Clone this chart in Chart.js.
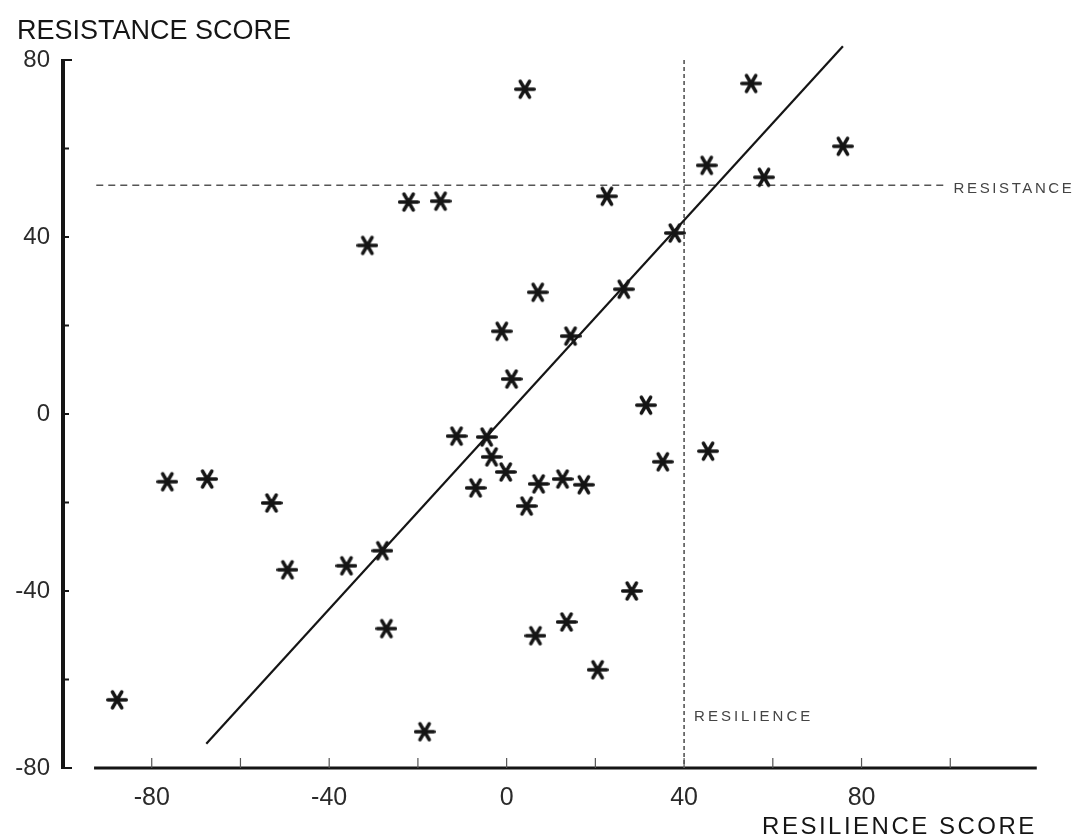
<!DOCTYPE html>
<html lang="en">
<head>
    <meta charset="UTF-8">
    <title>Resistance score vs resilience score</title>
    <script src="https://cdn.jsdelivr.net/npm/chart.js"></script>
    <style>
        html, body { margin: 0; padding: 0; background: #fff; }
        #wrap { width: 1077px; height: 836px; }
    </style>
</head>
<body>

<div id="wrap"><canvas id="scoreChart"></canvas></div>

<script>
// Scores: x = resilience score, y = resistance score
const resilience = [4.1, -22.1, -14.9, 22.6, 37.9, 45.1, -31.4, 55.1, 75.8, 58.0,
                    7.0, 26.4, -1.1, 14.4, 1.1, 31.4, -11.3, -4.5, -3.4, -0.2,
                    35.2, 45.4, -7.0, 7.2, 12.6, 17.4, 4.5, -28.0, -27.1, 6.5,
                    13.5, 28.2, 20.5, -18.5, -76.5, -67.5, -53.0, -49.4, -36.1, -87.8];
const resistance = [73.4, 47.9, 48.1, 49.2, 40.9, 56.2, 38.1, 74.7, 60.5, 53.5,
                    27.5, 28.2, 18.7, 17.6, 7.9, 2.0, -5.0, -5.2, -9.7, -13.1,
                    -10.8, -8.4, -16.7, -15.8, -14.7, -16.0, -20.8, -30.9, -48.5, -50.1,
                    -47.0, -40.0, -57.8, -71.8, -15.3, -14.7, -20.1, -35.2, -34.3, -64.6];

// fitted line end points
const fitX = [-67.7, 75.8];
const fitY = [-74.5, 83.1];

// cut-off lines
const resistanceCut = 51.7;
const resistanceSpan = [-92.5, 98.5];
const resilienceCut = 40;
const resilienceSpan = [80, -80];

// axes
const xTicks = [-80, -40, 0, 40, 80];
const yTicks = [-80, -40, 0, 40, 80];
const minorStep = 20;
const xAxisSpan = [-93, 119.5];

const ink = '#151515';
const font = '"Liberation Sans", Arial, sans-serif';

// typewriter style asterisk used as point marker (horizontal bar + two diagonals)
function asterisk(size, lw) {
    const c = document.createElement('canvas');
    c.width = c.height = size;
    const g = c.getContext('2d');
    const r = size / 2 - lw / 2;
    g.strokeStyle = ink;
    g.lineWidth = lw;
    g.lineCap = 'round';
    g.translate(size / 2, size / 2);
    for (let i = 0; i < 3; i++) {
        const a = i * Math.PI / 3;
        g.beginPath();
        g.moveTo(-r * Math.cos(a), -r * Math.sin(a));
        g.lineTo(r * Math.cos(a), r * Math.sin(a));
        g.stroke();
    }
    return c;
}

// axis lines, inward ticks and the text labels
const paperAxes = {
    id: 'paperAxes',
    beforeDatasetsDraw(chart) {
        const { ctx, chartArea: a, scales: { x, y } } = chart;
        ctx.save();
        ctx.strokeStyle = ink;

        // vertical axis
        ctx.lineWidth = 4;
        ctx.beginPath();
        ctx.moveTo(a.left, y.getPixelForValue(80) - 1);
        ctx.lineTo(a.left, y.getPixelForValue(-80) + 1);
        ctx.stroke();
        ctx.lineWidth = 2;
        for (let v = -80; v <= 80; v += minorStep) {
            const py = y.getPixelForValue(v);
            ctx.beginPath();
            ctx.moveTo(a.left, py);
            ctx.lineTo(a.left + (Math.abs(v) === 80 ? 9 : 6), py);
            ctx.stroke();
        }

        // horizontal axis
        const by = y.getPixelForValue(-80);
        ctx.lineWidth = 3;
        ctx.beginPath();
        ctx.moveTo(x.getPixelForValue(xAxisSpan[0]), by);
        ctx.lineTo(x.getPixelForValue(xAxisSpan[1]), by);
        ctx.stroke();
        ctx.lineWidth = 1.2;
        ctx.strokeStyle = '#555';
        for (let v = -80; v <= 100; v += minorStep) {
            const px = x.getPixelForValue(v);
            ctx.beginPath();
            ctx.moveTo(px, by);
            ctx.lineTo(px, by - 10);
            ctx.stroke();
        }
        ctx.restore();
    },
    afterDraw(chart) {
        const { ctx, scales: { x, y } } = chart;
        ctx.save();
        ctx.fillStyle = ink;
        ctx.textBaseline = 'alphabetic';

        ctx.font = '27px ' + font;
        ctx.textAlign = 'left';
        ctx.fillText('RESISTANCE SCORE', 17, 39);

        ctx.font = '24px ' + font;
        ctx.letterSpacing = '2.5px';
        ctx.textAlign = 'right';
        ctx.fillText('RESILIENCE SCORE', x.getPixelForValue(119.5), 834);

        ctx.fillStyle = '#444';
        ctx.font = '15px ' + font;
        ctx.letterSpacing = '2.6px';
        ctx.textAlign = 'left';
        ctx.textBaseline = 'middle';
        ctx.fillText('RESISTANCE', x.getPixelForValue(resistanceSpan[1]) + 10, y.getPixelForValue(resistanceCut) + 4);
        ctx.letterSpacing = '3px';
        ctx.fillText('RESILIENCE', x.getPixelForValue(resilienceCut) + 10, y.getPixelForValue(-68.5));
        ctx.restore();
    }
};

const points = resilience.map((v, i) => ({ x: v, y: resistance[i] }));

new Chart(document.getElementById('scoreChart'), {
    type: 'scatter',
    data: {
        datasets: [
            {
                label: 'Scores',
                data: points,
                pointStyle: asterisk(22, 3.6),
                pointRadius: 11,
                showLine: false
            },
            {
                label: 'Fit',
                type: 'line',
                data: fitX.map((v, i) => ({ x: v, y: fitY[i] })),
                borderColor: ink,
                borderWidth: 2.2,
                pointRadius: 0
            },
            {
                label: 'Resistance',
                type: 'line',
                data: resistanceSpan.map(v => ({ x: v, y: resistanceCut })),
                borderColor: '#555',
                borderWidth: 1.6,
                borderDash: [7, 5],
                pointRadius: 0
            },
            {
                label: 'Resilience',
                type: 'line',
                data: resilienceSpan.map(v => ({ x: resilienceCut, y: v })),
                borderColor: '#555',
                borderWidth: 1.6,
                borderDash: [4, 3],
                pointRadius: 0
            }
        ]
    },
    options: {
        responsive: true,
        maintainAspectRatio: false,
        animation: false,
        clip: false,
        layout: { padding: { top: 60, right: 38, bottom: 0, left: 0 } },
        plugins: {
            legend: { display: false },
            tooltip: { enabled: false }
        },
        scales: {
            x: {
                type: 'linear',
                min: -100,
                max: 120,
                border: { display: false },
                grid: { display: false },
                afterBuildTicks: s => { s.ticks = xTicks.map(v => ({ value: v })); },
                afterFit: s => { s.height = 68; },
                ticks: {
                    padding: 7,
                    color: '#2a2a2a',
                    font: { family: font, size: 25 }
                }
            },
            y: {
                type: 'linear',
                min: -80,
                max: 80,
                border: { display: false },
                grid: { display: false },
                afterBuildTicks: s => { s.ticks = yTicks.map(v => ({ value: v })); },
                afterFit: s => { s.width = 63; },
                ticks: {
                    padding: 5,
                    color: '#2a2a2a',
                    font: { family: font, size: 24 }
                }
            }
        }
    },
    plugins: [paperAxes]
});
</script>

</body>
</html>
